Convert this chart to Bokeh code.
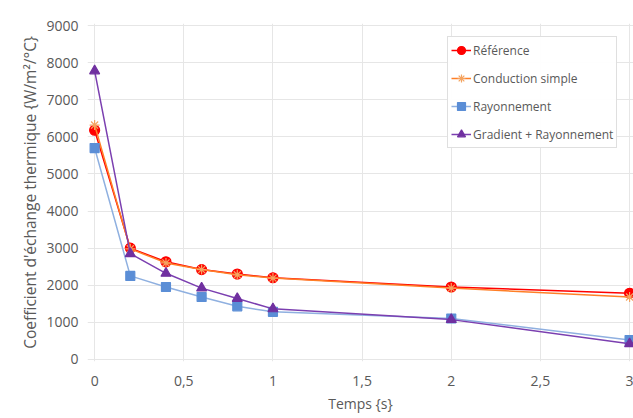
from bokeh.plotting import figure
from bokeh.models import Range1d, FixedTicker, CustomJSTickFormatter, Legend, LegendItem
from bokeh.embed import file_html
from bokeh.resources import INLINE

temps = [0, 0.2, 0.4, 0.6, 0.8, 1, 2, 3]
reference = [6180, 3000, 2630, 2420, 2300, 2200, 1950, 1780]
conduction = [6320, 2980, 2600, 2420, 2280, 2190, 1920, 1680]
rayonnement = [5700, 2250, 1950, 1680, 1430, 1280, 1100, 520]
gradient = [7780, 2850, 2320, 1920, 1640, 1360, 1070, 420]
x_ticks = [0, 0.5, 1, 1.5, 2, 2.5, 3]
y_ticks = [0, 1000, 2000, 3000, 4000, 5000, 6000, 7000, 8000, 9000]

FONT = "Open Sans"
GRAY = "#595959"

p = figure(width=633, height=418, output_backend="svg", toolbar_location=None,
           x_range=Range1d(-0.04, 3.022), y_range=Range1d(-60, 9060),
           min_border_left=87, min_border_right=0, min_border_top=23, min_border_bottom=57)
p.outline_line_color = None
p.background_fill_color = "white"
p.border_fill_color = "white"

for ax in (p.xaxis[0], p.yaxis[0]):
    ax.axis_line_color = None
    ax.major_tick_line_color = None
    ax.minor_tick_line_color = None
    ax.major_tick_out = 0
    ax.major_tick_in = 0
    ax.major_label_text_font = FONT
    ax.major_label_text_font_size = "14px"
    ax.major_label_text_color = GRAY
    ax.axis_label_text_font = FONT
    ax.axis_label_text_color = GRAY
    ax.axis_label_text_font_style = "normal"

p.xaxis.axis_label_text_font_size = "14px"
p.yaxis.axis_label_text_font_size = "15.5px"
p.xaxis.ticker = FixedTicker(ticks=x_ticks)
p.xaxis.formatter = CustomJSTickFormatter(code="return tick.toString().replace('.', ',');")
p.yaxis.ticker = FixedTicker(ticks=y_ticks)
p.xaxis.axis_label = "Temps {s}"
p.yaxis.axis_label = "Coefficient d'échange thermique {W/m²/°C}"
p.xaxis.major_label_standoff = 14
p.yaxis.major_label_standoff = 9
p.xaxis.axis_label_standoff = 5
p.yaxis.axis_label_standoff = 2

p.xgrid.ticker = FixedTicker(ticks=x_ticks)
p.ygrid.ticker = FixedTicker(ticks=y_ticks)
p.xgrid.grid_line_color = "#e6e6e6"
p.ygrid.grid_line_color = "#e6e6e6"

series = [
    ("Référence", reference, "#ff0000", "#ff0000", "circle", 10),
    ("Conduction simple", conduction, "#ff7f27", "#f4a460", "asterisk", 10),
    ("Rayonnement", rayonnement, "#8fb0e0", "#5b8ed6", "square", 9),
    ("Gradient + Rayonnement", gradient, "#7b3fb0", "#7030a0", "triangle", 10),
]

items = []
for name, ys, lc, mc, mk, sz in series:
    r1 = p.line(temps, ys, line_color=lc, line_width=1.5)
    r2 = p.scatter(temps, ys, marker=mk, size=sz, fill_color=mc, line_color=mc, line_width=1.2)
    items.append(LegendItem(label=name, renderers=[r1, r2]))

legend = Legend(items=items, location=(360, 213))
legend.label_text_font = FONT
legend.label_text_font_size = "12px"
legend.label_text_color = GRAY
legend.border_line_color = "#bfbfbf"
legend.border_line_width = 1
legend.spacing = 8
legend.padding = 3
legend.margin = 0
legend.glyph_width = 20
legend.glyph_height = 20
legend.label_standoff = 2
legend.label_height = 20
p.add_layout(legend, "center")

open("out.html", "w").write(file_html(p, INLINE))
